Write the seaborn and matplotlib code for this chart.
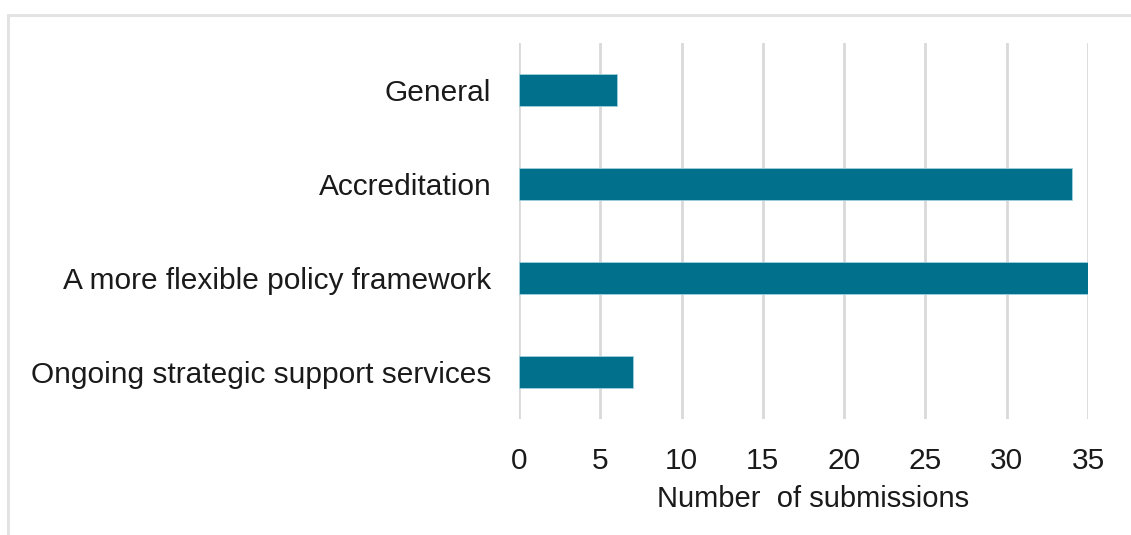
import matplotlib
matplotlib.use("Agg")
import matplotlib.pyplot as plt
import seaborn as sns
import pandas as pd
from matplotlib.patches import Rectangle

categories = ["General", "Accreditation", "A more flexible policy framework",
              "Ongoing strategic support services"]
submissions = [6, 34, 35, 7]
x_ticks = [0, 5, 10, 15, 20, 25, 30, 35]

df = pd.DataFrame({"category": categories, "submissions": submissions})

sns.set_theme(style="white")
plt.rcParams["font.family"] = ["Liberation Sans", "DejaVu Sans"]

fig = plt.figure(figsize=(11.31, 5.35), dpi=100)
W, H = 1131, 535
ax = fig.add_axes([519 / W, 1 - 419 / H, (1088 - 519) / W, (419 - 43) / H])

# light frame around the chart area
fig.patches.append(Rectangle((7.5 / W, -0.05), 1.2, 1 - 15 / H + 0.05,
                             transform=fig.transFigure, fill=False,
                             edgecolor="#e3e3e3", linewidth=2.2, zorder=0))

sns.barplot(data=df, y="category", x="submissions", orient="h",
            color="#00708c", saturation=1, width=0.34, ax=ax,
            edgecolor="#9fd0dc", linewidth=0.6, zorder=3)

ax.set_xlim(0, 35)
ax.set_ylim(3.5, -0.5)
ax.set_xticks(x_ticks)
ax.set_xticklabels([str(t) for t in x_ticks])
ax.grid(axis="x", color="#d9d9d9", linewidth=2.0, zorder=0)
ax.grid(axis="y", visible=False)
for s in ax.spines.values():
    s.set_visible(False)

ax.tick_params(axis="y", labelsize=21.5, length=0, pad=20, colors="#1a1a1a")
ax.tick_params(axis="x", labelsize=21.5, length=0, pad=20, colors="#1a1a1a")
ax.set_ylabel("")
ax.set_xlabel("Number  of submissions", fontsize=21, color="#1a1a1a")
ax.xaxis.set_label_coords(0.517, -0.176)

fig.savefig("out.png", dpi=100, facecolor="white")
